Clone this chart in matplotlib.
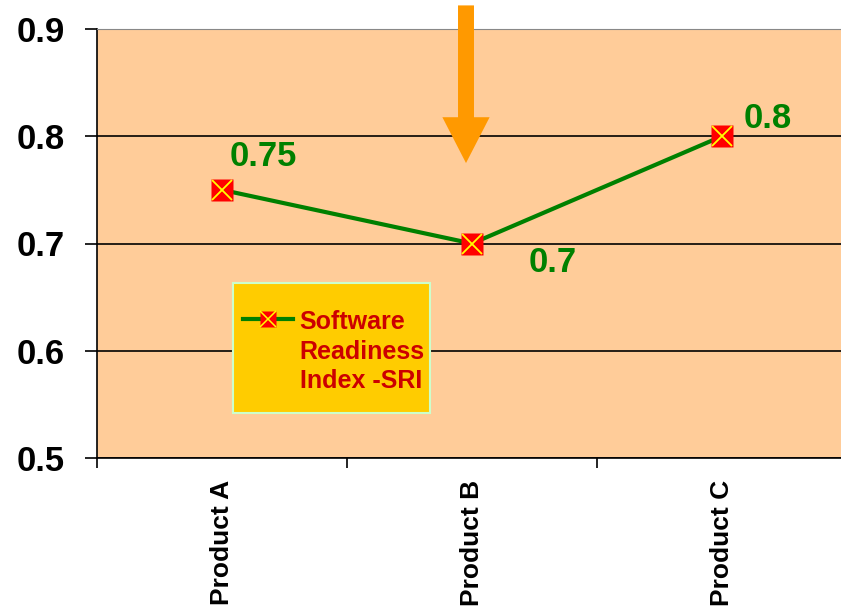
import matplotlib
matplotlib.use("Agg")
import matplotlib.pyplot as plt
from matplotlib.lines import Line2D
from matplotlib.patches import Rectangle

plt.rcParams["font.family"] = ["Liberation Sans", "DejaVu Sans"]
plt.rcParams["font.weight"] = "bold"

# Data
products = ["Product A", "Product B", "Product C"]
sri = [0.75, 0.70, 0.80]
label_offsets = [(30, 24), (58, -14), (33, 13)]  # points, label text offsets
series_name = "Software\nReadiness\nIndex -SRI"

fig = plt.figure(figsize=(8.41, 6.08), dpi=100)
ax = fig.add_axes([97 / 841, 150 / 608, 750 / 841, 429 / 608])
ax.set_facecolor("#FFCC99")

x = list(range(len(products)))
ax.plot(x, sri, color="#008000", lw=3, zorder=3)
sq, = ax.plot(x, sri, ls="none", marker="s", ms=15.5, mfc="#FF0000", mec="none", zorder=4)
xm, = ax.plot(x, sri, ls="none", marker="x", ms=15, mec="#FFFF00", mew=1.3, zorder=5)

for xi, v, off in zip(x, sri, label_offsets):
    ax.annotate(f"{v:g}", (xi, v), xytext=off, textcoords="offset points",
                ha="center", va="center", color="#008000", fontsize=25,
                fontweight="bold")

# Orange arrow pointing at Product B
ax.annotate("", xy=(0.976, 0.775), xytext=(0.976, 0.922),
            arrowprops=dict(arrowstyle="simple,head_length=3.3,head_width=3.4,tail_width=1.15",
                            mutation_scale=10, color="#FF9900", shrinkA=0, shrinkB=0,
                            lw=0),
            annotation_clip=False, zorder=6)

ax.set_xlim(-0.5, 2.5)
ax.set_ylim(0.5, 0.9)
ax.set_yticks([0.5, 0.6, 0.7, 0.8, 0.9])
ax.yaxis.grid(True, color="black", lw=1.2)
ax.set_axisbelow(True)
ax.tick_params(axis="y", labelsize=25, length=9, width=1.2, pad=14, direction="out")
for t in ax.get_yticklabels():
    t.set_fontweight("bold")

ax.set_xticks(x)
ax.set_xticklabels(products, rotation=90, fontsize=19, fontweight="bold")
ax.tick_params(axis="x", which="major", length=0, pad=16)
ax.set_xticks([-0.5, 0.5, 1.5, 2.5], minor=True)
ax.tick_params(axis="x", which="minor", length=7, width=1.2, direction="out")

for s in ["left", "bottom"]:
    ax.spines[s].set_linewidth(1.2)
ax.spines["right"].set_visible(False)
ax.spines["top"].set_color("#888888")

# Legend box
ax.add_patch(Rectangle((0.181, 0.105), 0.263, 0.303, transform=ax.transAxes,
                       facecolor="#FFCC00", edgecolor="#CCFFCC", lw=1.5, zorder=6))

handle_line = Line2D([], [], color="#008000", lw=3)
sq_leg = Line2D([], [], ls="none", marker="s", ms=12, mfc="#FF0000", mec="none")
xm_leg = Line2D([], [], ls="none", marker="x", ms=11.5, mec="#FFFF00", mew=1.1)
leg = ax.legend([(handle_line, sq_leg, xm_leg)], [series_name], loc="upper left",
                bbox_to_anchor=(0.195, 0.345), borderaxespad=0, fontsize=18,
                frameon=False, handlelength=2.0, handletextpad=0.25,
                borderpad=0, labelspacing=0)
leg.set_zorder(7)
for t in leg.get_texts():
    t.set_color("#CC0000")
    t.set_fontweight("bold")
    t.set_linespacing(1.3)
try:
    hp = leg._legend_handle_box.get_children()[0].get_children()[0]
    hp.align = "top"
except Exception:
    pass

fig.savefig("out.png", dpi=100)
